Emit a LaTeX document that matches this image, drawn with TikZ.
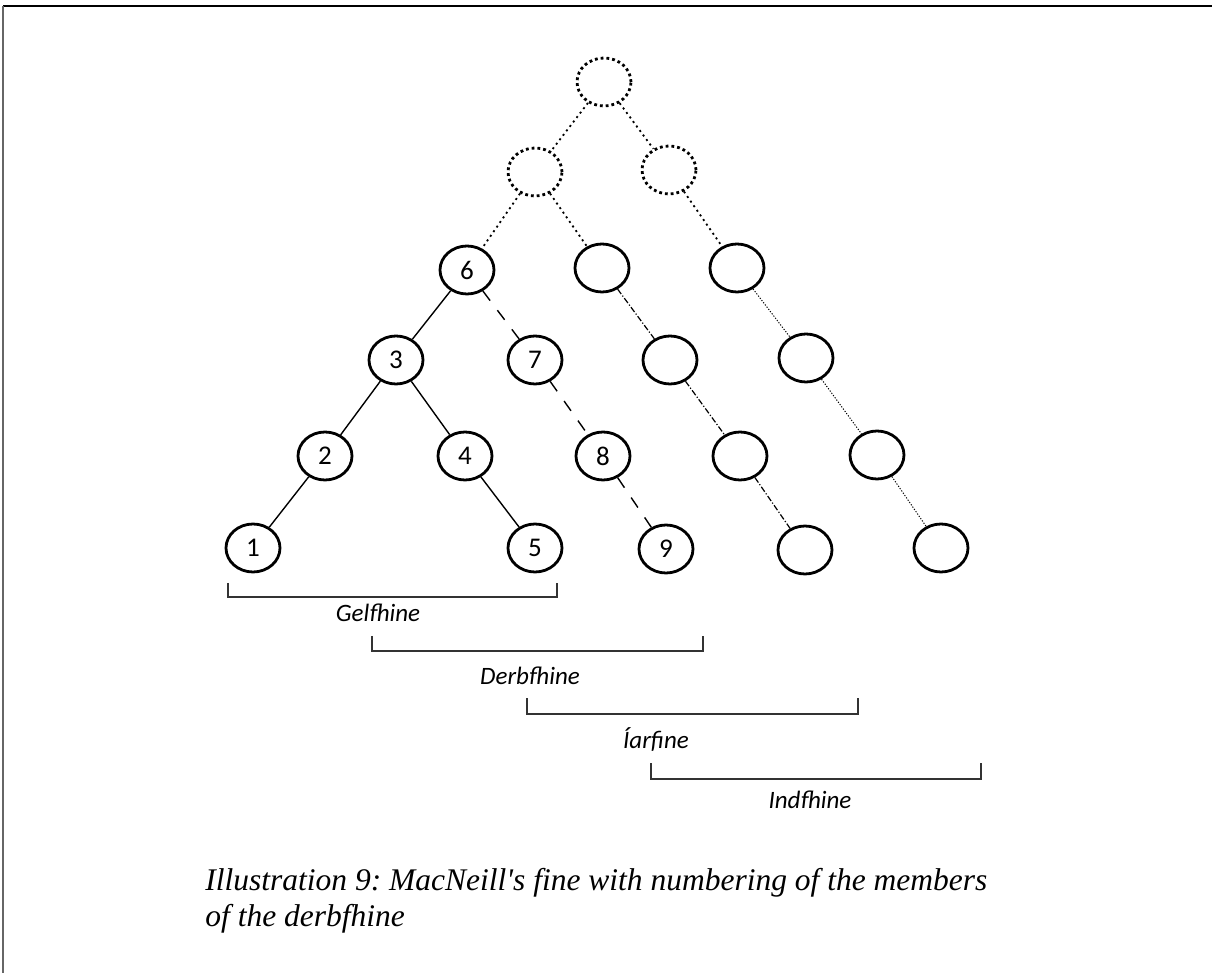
\documentclass[tikz,border=0pt]{standalone}
\usepackage{fontspec}
\setmainfont{Liberation Serif}
\newfontfamily\calibri{Carlito}
\usetikzlibrary{shapes.geometric}

\tikzset{
  member/.style={ellipse,draw,line width=1.4pt,minimum width=27pt,minimum height=24pt,
    inner sep=0pt,font=\calibri\fontsize{13.5}{16}\selectfont},
  ghost/.style={member,dash pattern=on 1.4pt off 1.5pt},
  ghostline/.style={line width=0.9pt,dash pattern=on 1pt off 1.8pt},
  kinline/.style={line width=0.7pt},
  derbline/.style={line width=0.7pt,dash pattern=on 6pt off 6pt},
  iarline/.style={line width=0.6pt,dash pattern=on 3pt off 1pt on 0.6pt off 1pt},
  indline/.style={line width=0.5pt,dash pattern=on 0.6pt off 0.8pt},
  bracket/.style={line width=0.9pt,black!80},
  finelabel/.style={font=\calibri\itshape\fontsize{12.5}{14}\selectfont}
}

\begin{document}
\frenchspacing
\begin{tikzpicture}[x=0.5pt,y=-0.5pt]
    \useasboundingbox (0,0) rectangle (1212,973);
    % frame
    \draw[line width=1.1pt] (3,6) -- (1212,6);
    \draw[line width=0.6pt,black!60] (3,6) -- (3,973);

    % ancestors
    \node[ghost] (top) at (604,82) {};
    \node[ghost] (gl) at (535,172) {};
    \node[ghost] (gr) at (669,170) {};

    % members
    \node[member] (n6) at (467,270) {6};
    \node[member] (e52) at (602,268) {};
    \node[member] (e72) at (737,268) {};
    \node[member] (n3) at (396,360) {3};
    \node[member] (n7) at (535,360) {7};
    \node[member] (e63) at (670,360) {};
    \node[member] (e83) at (806,358) {};
    \node[member] (n2) at (325,456) {2};
    \node[member] (n4) at (465,456) {4};
    \node[member] (n8) at (603,456) {8};
    \node[member] (e74) at (740,456) {};
    \node[member] (e94) at (877,455) {};
    \node[member] (n1) at (253,548) {1};
    \node[member] (n5) at (535,548) {5};
    \node[member] (n9) at (666,549) {9};
    \node[member] (e85) at (805,550) {};
    \node[member] (e105) at (941,548) {};

    \draw[ghostline] (top) -- (gl);
    \draw[ghostline] (top) -- (gr);
    \draw[ghostline] (gl) -- (n6);
    \draw[ghostline] (gl) -- (e52);
    \draw[ghostline] (gr) -- (e72);

    \draw[kinline] (n6) -- (n3);
    \draw[kinline] (n3) -- (n2);
    \draw[kinline] (n2) -- (n1);
    \draw[kinline] (n3) -- (n4);
    \draw[kinline] (n4) -- (n5);

    \draw[derbline] (n6) -- (n7);
    \draw[derbline] (n7) -- (n8);
    \draw[derbline] (n8) -- (n9);

    \draw[iarline] (e52) -- (e63);
    \draw[iarline] (e63) -- (e74);
    \draw[iarline] (e74) -- (e85);

    \draw[indline] (e72) -- (e83);
    \draw[indline] (e83) -- (e94);
    \draw[indline] (e94) -- (e105);

    % brackets
    \draw[bracket] (228,583) -- (228,597) -- (557,597) -- (557,583);
    \draw[bracket] (372,636) -- (372,651) -- (703,651) -- (703,636);
    \draw[bracket] (527,698) -- (527,714) -- (858,714) -- (858,698);
    \draw[bracket] (651,763) -- (651,779) -- (981,779) -- (981,763);

    \node[finelabel] (gelf) at (378,613) {Gelfhine};
    \node[finelabel] (derb) at (530,676) {Derbfhine};
    \node[finelabel] (iarf) at (656,740) {Íarfine};
    \node[finelabel] (indf) at (810,800) {Indfhine};

    % caption
    \node[anchor=base west,align=left,inner sep=0pt,
      font=\itshape\fontsize{15.75}{18}\selectfont] (caption) at (205,926)
      {Illustration 9: MacNeill\textquotesingle s fine with numbering of the members\\of the derbfhine};
\end{tikzpicture}
\end{document}
